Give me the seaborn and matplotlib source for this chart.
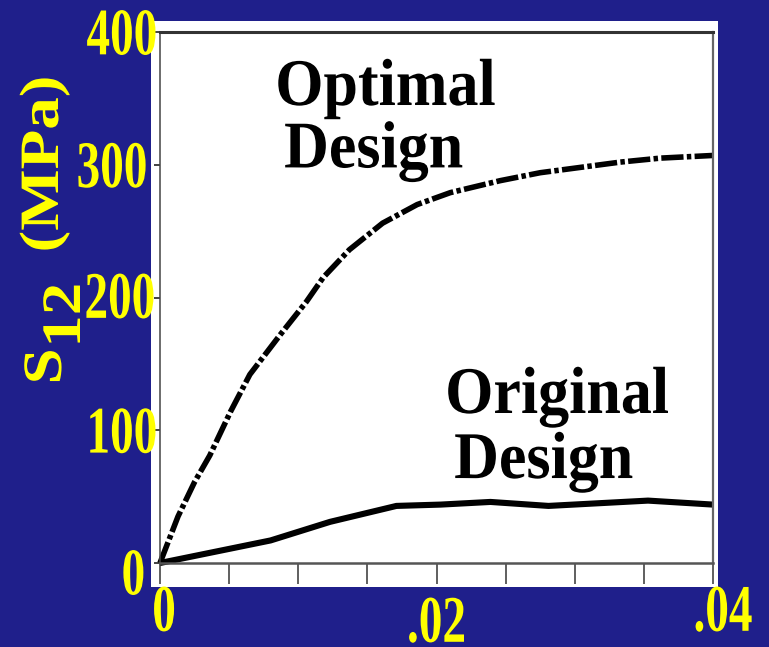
import matplotlib
matplotlib.use("Agg")
import matplotlib.pyplot as plt
import pandas as pd
import seaborn as sns
from matplotlib.patches import Rectangle
from matplotlib.patheffects import AbstractPathEffect
from matplotlib.transforms import Affine2D, ScaledTranslation

# Shear strain vs. shear stress S12 (MPa) for the two designs
optimal_strain = [0, 0.0013, 0.0025, 0.0036, 0.0051, 0.0065, 0.0087, 0.0106, 0.0118,
                  0.0137, 0.0161, 0.0186, 0.0210, 0.0246, 0.0275, 0.0304, 0.0333,
                  0.0362, 0.0400]
optimal_stress = [0, 35, 61, 81, 114, 142, 172, 197, 215, 236, 256, 270, 279, 288,
                  294, 298, 302, 305, 307]

original_strain = [0, 0.0080, 0.0123, 0.0171, 0.0203, 0.0239, 0.0281, 0.0353, 0.0400]
original_stress = [0, 17, 31, 43, 44, 46, 43, 47, 44]

x_ticks = [0, 0.005, 0.010, 0.015, 0.020, 0.025, 0.030, 0.035, 0.040]
x_tick_labels = ["0", "", "", "", ".02", "", "", "", ".04"]
y_ticks = [0, 100, 200, 300, 400]
y_tick_labels = ["0", "100", "200", "300", "400"]

W, H = 769, 647
BLUE = "#1f1f8b"
YELLOW = "#ffff00"
SERIF = ["Liberation Serif", "DejaVu Serif"]


class Reshape(AbstractPathEffect):
    """Scale the glyph outlines by (sx, sy) about an anchor of their ink box."""

    def __init__(self, sx=1.0, sy=1.0, xanchor="center", yanchor="center"):
        super().__init__()
        self._sx, self._sy = sx, sy
        self._xa, self._ya = xanchor, yanchor

    def draw_path(self, renderer, gc, tpath, affine, rgbFace=None):
        ext = tpath.get_extents()
        x0 = {"left": ext.x0, "center": 0.5 * (ext.x0 + ext.x1), "right": ext.x1}[self._xa]
        y0 = {"bottom": ext.y0, "center": 0.5 * (ext.y0 + ext.y1), "top": ext.y1,
              "baseline": 0.0}[self._ya]
        t = Affine2D().translate(-x0, -y0).scale(self._sx, self._sy).translate(x0, y0)
        renderer.draw_path(gc, tpath, t + affine, rgbFace)


sns.set_style("white")
plt.rcParams["font.family"] = SERIF
plt.rcParams["font.weight"] = "bold"

fig = plt.figure(figsize=(W / 100, H / 100), dpi=100, facecolor=BLUE)


def px(x, y):
    return (x / W, 1 - y / H)


# white card behind the plot
fig.add_artist(Rectangle(px(151, 587), (718 - 151) / W, (587 - 21) / H,
                         transform=fig.transFigure, facecolor="white",
                         edgecolor="none", zorder=-1))

ax = fig.add_axes([160 / W, 1 - 563 / H, (713 - 160) / W, (563 - 32) / H])
ax.set_facecolor("white")

df_opt = pd.DataFrame({"strain": optimal_strain, "stress": optimal_stress})
df_orig = pd.DataFrame({"strain": original_strain, "stress": original_stress})

sns.lineplot(data=df_opt, x="strain", y="stress", ax=ax, color="black", lw=4.0,
             linestyle=(0, (4.0, 0.6, 0.8, 0.6)), clip_on=False)
sns.lineplot(data=df_orig, x="strain", y="stress", ax=ax, color="black", lw=4.4,
             clip_on=False, solid_capstyle="butt")

ax.set_xlim(0, 0.04)
ax.set_ylim(0, 400)
ax.set_xlabel("")
ax.set_ylabel("")

spine_style = {"top": (2.2, "#333333"), "bottom": (1.8, "#555555"),
               "left": (1.1, "#444444"), "right": (1.6, "#666666")}
for side, (lw, c) in spine_style.items():
    ax.spines[side].set_visible(True)
    ax.spines[side].set_linewidth(lw)
    ax.spines[side].set_color(c)

# tall, narrow tick numerals: smaller font drawn taller
TICK_FS = 34
TICK_SY = 1.41
ax.set_xticks(x_ticks, x_tick_labels)
ax.set_yticks(y_ticks, y_tick_labels)
ax.tick_params(axis="x", bottom=True, direction="out", length=15, width=1.2,
               color="#444444", pad=1.5, labelsize=TICK_FS, labelcolor=YELLOW)
ax.tick_params(axis="y", left=True, direction="out", length=4.3, width=1.3,
               color="#333333", pad=-2.2, labelsize=TICK_FS, labelcolor=YELLOW)

for lbl in ax.get_xticklabels():
    lbl.set_fontfamily(SERIF)
    lbl.set_fontweight("bold")
    lbl.set_path_effects([Reshape(1.0, TICK_SY, "center", "top")])
for lbl in ax.get_yticklabels():
    lbl.set_fontfamily(SERIF)
    lbl.set_fontweight("bold")
    lbl.set_path_effects([Reshape(1.0, TICK_SY, "right", "center")])


def shift(text, dx, dy):
    text.set_transform(text.get_transform()
                       + ScaledTranslation(dx / 100, -dy / 100, fig.dpi_scale_trans))


xt = ax.xaxis.get_major_ticks()
shift(xt[0].label1, 4, 0)
shift(xt[4].label1, 0, 11)
shift(xt[8].label1, 10, 0)
yt = ax.yaxis.get_major_ticks()
shift(yt[0].label1, -12, 9)
shift(yt[2].label1, -2, -2)
shift(yt[3].label1, -10, 0)

# rotated axis title: S with a same-size lowered "12", then the unit
ylab = dict(rotation=90, rotation_mode="anchor", ha="left", va="baseline",
            color=YELLOW, fontsize=40, fontweight="bold", family=SERIF,
            transform=fig.transFigure,
            path_effects=[Reshape(1.17, 1.0, "left", "baseline")])
fig.text(*px(61, 384), "S", **ylab)
fig.text(*px(80, 347), "12", **ylab)
fig.text(*px(58, 252), "(MPa)", **ylab)

# curve annotations
note = dict(ha="left", va="baseline", color="black", fontsize=48,
            fontweight="bold", family=SERIF,
            path_effects=[Reshape(0.93, 1.0, "left", "baseline")])
ax.text(0.00832, 345, "Optimal", **note)
ax.text(0.00897, 298, "Design", **note)
ax.text(0.02061, 113, "Original", **note)
ax.text(0.02127, 64, "Design", **note)

fig.savefig("out.png", dpi=100, facecolor=BLUE)
